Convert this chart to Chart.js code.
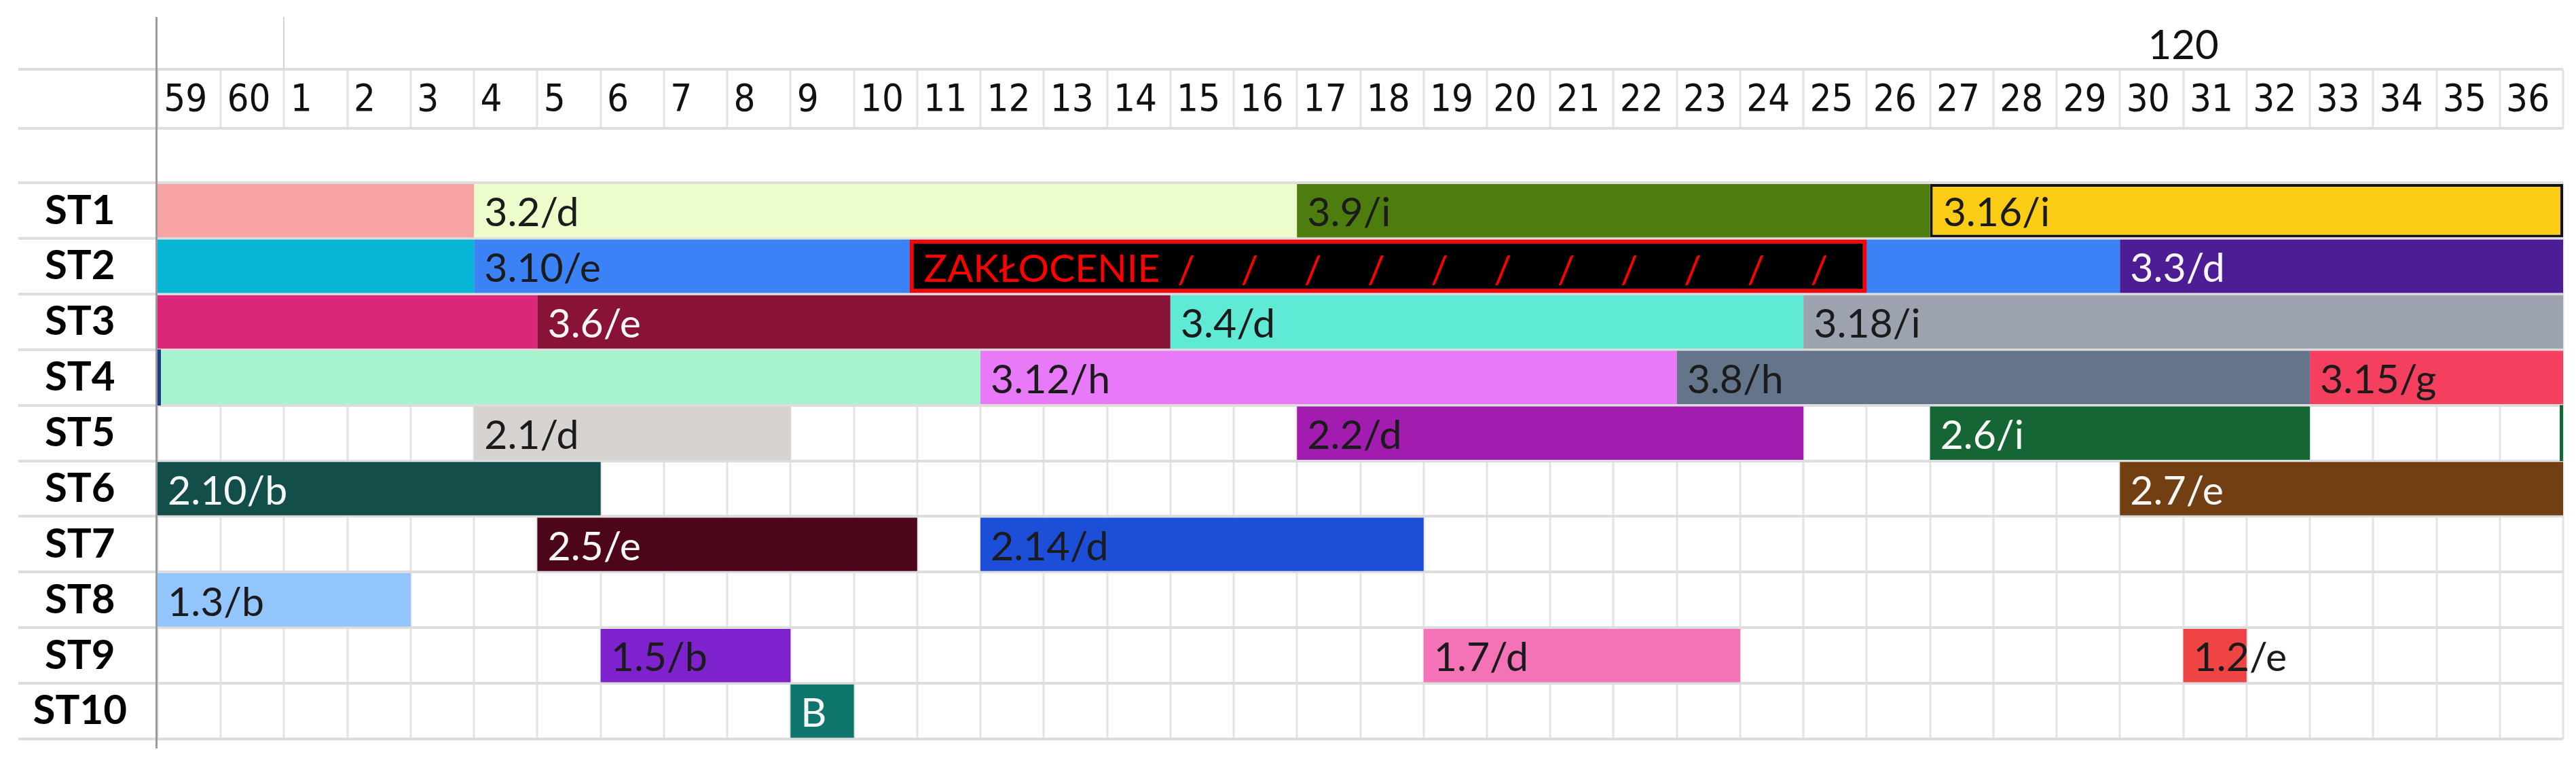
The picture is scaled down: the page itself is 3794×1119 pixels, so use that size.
<!DOCTYPE html>
<html>
<head>
<meta charset="utf-8">
<script src="https://cdn.jsdelivr.net/npm/chart.js@4.4.1/dist/chart.umd.min.js"></script>
<style>
  html, body { margin: 0; padding: 0; background: #ffffff; }
  #wrap { width: 3794px; height: 1119px; }
</style>
</head>
<body>
<div id="wrap"><canvas id="c" width="3794" height="1119"></canvas></div>
<script>
// ---------- data ----------
const rowLabels = ['ST1', 'ST2', 'ST3', 'ST4', 'ST5', 'ST6', 'ST7', 'ST8', 'ST9', 'ST10'];
const colLabels = ['59', '60', '1', '2', '3', '4', '5', '6', '7', '8', '9', '10', '11', '12', '13', '14',
  '15', '16', '17', '18', '19', '20', '21', '22', '23', '24', '25', '26', '27', '28', '29', '30',
  '31', '32', '33', '34', '35', '36'];
const markerText = '120';
const markerCol = 32;            // column boundary the marker sits over

// task rows (0 = ST1), start/end as column positions (0 = column "59"), end exclusive
const taskRow   = [0, 0, 0, 0,   1, 1, 1, 1,       2, 2, 2, 2,   3, 3, 3, 3,   4, 4, 4,   5, 5,   6, 6,   7,   8, 8, 8,   9];
const taskStart = [0, 5, 18, 28, 0, 5, 31, 11.88,  0, 6, 16, 26, 0, 13, 24, 34, 5, 18, 28, 0, 31, 6, 13, 0,   7, 20, 32, 10];
const taskEnd   = [5, 18, 28, 38, 5, 31, 38, 27,   6, 16, 26, 38, 13, 24, 34, 38, 10, 26, 34, 7, 38, 12, 20, 4, 10, 25, 33, 11];
const taskText  = ['', '3.2/d', '3.9/i', '3.16/i',
                   '', '3.10/e', '3.3/d', 'ZAKŁOCENIE',
                   '', '3.6/e', '3.4/d', '3.18/i',
                   '', '3.12/h', '3.8/h', '3.15/g',
                   '2.1/d', '2.2/d', '2.6/i',
                   '2.10/b', '2.7/e',
                   '2.5/e', '2.14/d',
                   '1.3/b',
                   '1.5/b', '1.7/d', '1.2/e',
                   'B'];
const disruptionSlashCols = [16, 17, 18, 19, 20, 21, 22, 23, 24, 25, 26];
const disruptionSlash = '/';

// small cut-off cell-edge marks (ST4 left edge, ST5 right edge)
const edgeRow   = [3, 4];
const edgeStart = [0, 37.95];
const edgeEnd   = [0.05, 38];

// ---------- styles ----------
const DARK = '#1b1b1b', LIGHT = '#f7f7f7';
const taskFill = ['#f8a4a4', '#ecfccb', '#4d7c0f', '#facc15',
                  '#06b6d4', '#3b82f6', '#4c1d95', '#000000',
                  '#db2777', '#881337', '#5eead4', '#9ca3af',
                  '#a7f3d0', '#e879f9', '#64748b', '#f43f5e',
                  '#d6d3d1', '#a21caf', '#166534',
                  '#134e4a', '#713f12',
                  '#4c0519', '#1d4ed8',
                  '#93c5fd',
                  '#7e22ce', '#f472b6', '#ef4444',
                  '#0f766e'];
const taskInk = [DARK, DARK, DARK, DARK,
                 DARK, DARK, LIGHT, '#ff0000',
                 DARK, LIGHT, DARK, DARK,
                 DARK, DARK, DARK, DARK,
                 DARK, DARK, LIGHT,
                 LIGHT, LIGHT,
                 LIGHT, DARK,
                 DARK,
                 DARK, DARK, DARK,
                 LIGHT];
const edgeFill = ['#1e3a8a', '#166534'];
const taskBorderColor = taskText.map(t => t === '3.16/i' ? '#111111' : (t === 'ZAKŁOCENIE' ? '#ff0000' : 'rgba(0,0,0,0)'));
const taskBorderWidth = taskText.map(t => t === '3.16/i' ? 4 : (t === 'ZAKŁOCENIE' ? 6 : 0));
const disruptionIndex = taskText.indexOf('ZAKŁOCENIE');

const LABEL_FONT = '59px Lato';
const DISRUPT_FONT = '57px Lato';

// ---------- plugins ----------
const sheetGrid = {
  id: 'sheetGrid',
  beforeDatasetsDraw(chart) {
    const ctx = chart.ctx;
    const xs = chart.scales.x, ys = chart.scales.y;
    const rowTop = ys.getPixelForValue(0);
    const rowBottom = ys.getPixelForValue(rowLabels.length);
    ctx.save();
    // vertical cell lines: header band and task rows
    ctx.strokeStyle = '#e3e3e3';
    ctx.lineWidth = 3;
    for (let k = 0; k <= colLabels.length; k++) {
      const px = Math.round(xs.getPixelForValue(k));
      ctx.beginPath();
      ctx.moveTo(px, xs.top); ctx.lineTo(px, xs.bottom);
      ctx.moveTo(px, rowTop); ctx.lineTo(px, rowBottom);
      ctx.stroke();
    }
    // horizontal lines
    ctx.strokeStyle = '#dddddd';
    ctx.lineWidth = 4;
    const hs = [xs.top, xs.bottom];
    for (let i = 0; i <= rowLabels.length; i++) hs.push(ys.getPixelForValue(i));
    hs.forEach(py => {
      ctx.beginPath();
      ctx.moveTo(27, Math.round(py)); ctx.lineTo(xs.right, Math.round(py));
      ctx.stroke();
    });
    // short line above header
    ctx.strokeStyle = '#d4d4d4';
    ctx.lineWidth = 2;
    const p2 = Math.round(xs.getPixelForValue(2));
    ctx.beginPath(); ctx.moveTo(p2, 25); ctx.lineTo(p2, xs.top); ctx.stroke();
    // frozen-pane axis line
    ctx.strokeStyle = '#9a9a9a';
    ctx.lineWidth = 3;
    ctx.beginPath(); ctx.moveTo(xs.left - 1.5, 25); ctx.lineTo(xs.left - 1.5, rowBottom + 14); ctx.stroke();
    ctx.restore();
  },
  afterDatasetsDraw(chart) {
    const ctx = chart.ctx;
    const xs = chart.scales.x;
    const meta = chart.getDatasetMeta(0);
    ctx.save();
    ctx.textBaseline = 'alphabetic';
    ctx.textAlign = 'left';
    meta.data.forEach((el, i) => {
      const t = taskText[i];
      if (!t) return;
      const left = Math.min(el.x, el.base);
      const isDis = i === disruptionIndex;
      ctx.font = isDis ? DISRUPT_FONT : LABEL_FONT;
      const cap = (isDis ? 57 : 59) * 0.72;
      ctx.fillStyle = taskInk[i];
      ctx.fillText(t, left + 15 + taskBorderWidth[i], el.y + cap / 2 + 2);
    });
    // slashes inside the disruption box
    const dis = meta.data[disruptionIndex];
    if (dis) {
      ctx.font = DISRUPT_FONT;
      ctx.textAlign = 'center';
      ctx.fillStyle = taskInk[disruptionIndex];
      disruptionSlashCols.forEach(k => {
        ctx.fillText(disruptionSlash, xs.getPixelForValue(k + 0.25), dis.y + 57 * 0.72 / 2 + 4);
      });
    }
    // marker over the header
    ctx.font = '60px Lato';
    ctx.textAlign = 'center';
    ctx.fillStyle = '#111111';
    ctx.fillText(markerText, xs.getPixelForValue(markerCol), 87);
    ctx.restore();
  }
};

function noScalePadding(s) {
  s.paddingTop = 0; s.paddingBottom = 0; s.paddingLeft = 0; s.paddingRight = 0;
}

// ---------- chart ----------
new Chart(document.getElementById('c'), {
  type: 'bar',
  data: {
    datasets: [{
      data: taskRow.map((r, i) => ({ x: [taskStart[i], taskEnd[i]], y: r + 0.5 })),
      backgroundColor: taskFill,
      borderColor: taskBorderColor,
      borderWidth: taskBorderWidth,
      borderSkipped: false,
      barPercentage: 0.96,
      categoryPercentage: 1,
      grouped: false,
      order: 1
    }, {
      data: edgeRow.map((r, i) => ({ x: [edgeStart[i], edgeEnd[i]], y: r + 0.5 })),
      backgroundColor: edgeFill,
      borderWidth: 0,
      borderSkipped: false,
      barPercentage: [0.57, 1],
      categoryPercentage: 1,
      grouped: false,
      order: 0
    }]
  },
  options: {
    indexAxis: 'y',
    responsive: false,
    animation: false,
    devicePixelRatio: 1,
    layout: { padding: { top: 102, left: 0, right: 19, bottom: 31 } },
    plugins: { legend: { display: false }, tooltip: { enabled: false }, title: { display: false } },
    scales: {
      x: {
        type: 'linear', position: 'top', min: 0, max: colLabels.length, offset: false,
        grid: { display: false }, border: { display: false },
        afterBuildTicks: s => { s.ticks = colLabels.map((_, i) => ({ value: i + 0.1 })); },
        afterFit: s => { s.height = 87; noScalePadding(s); },
        ticks: {
          autoSkip: false, maxRotation: 0, minRotation: 0, align: 'start', padding: 5,
          color: '#111111',
          font: { family: '"Liberation Sans Narrow", "DejaVu Sans Condensed", Lato', size: 56, lineHeight: 1 },
          callback: (v, i) => colLabels[i]
        }
      },
      y: {
        type: 'linear', reverse: true, min: -0.98, max: rowLabels.length, offset: false,
        grid: { display: false, offset: false }, border: { display: false },
        afterBuildTicks: s => { s.ticks = rowLabels.map((_, i) => ({ value: i + 0.5 })); },
        afterFit: s => { s.width = 232; noScalePadding(s); },
        ticks: {
          autoSkip: false, crossAlign: 'center', padding: 37, color: '#000000',
          font: { family: 'Lato', size: 60, weight: 'bold' },
          callback: (v, i) => rowLabels[i]
        }
      }
    }
  },
  plugins: [sheetGrid]
});
</script>
</body>
</html>
